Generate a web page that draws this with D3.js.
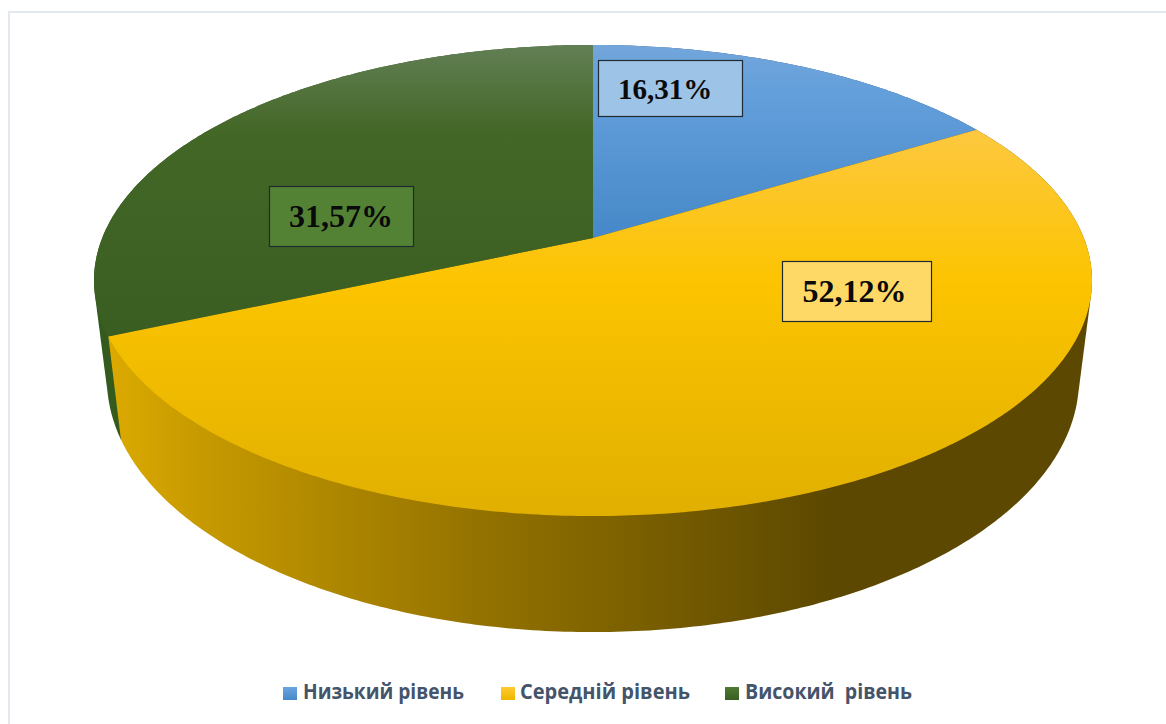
<!DOCTYPE html>
<html><head><meta charset="utf-8">
<script src="https://cdn.jsdelivr.net/npm/d3@7"></script>
<style>html,body{margin:0;padding:0;background:#fff}svg{display:block}</style>
</head><body><svg id="c" width="1166" height="724"></svg>
<script>
const categories = ["Низький рівень", "Середній рівень", "Високий  рівень"];
const values = [16.31, 52.12, 31.57];
const valueLabels = ["16,31%", "52,12%", "31,57%"];

const svg = d3.select("#c");
const defs = svg.append("defs");

// layout / style (kept apart from the data)
const topStops = [
  [["0", "#73a6db"], ["0.25", "#639fdb"], ["1", "#4688c8"]],
  [["0", "#fdc83f"], ["0.4", "#fcc400"], ["1", "#e0af00"]],
  [["0", "#627f55"], ["0.3", "#436726"], ["1", "#3a5e22"]]
];
const sideStops = [
  [["0", "#3a6ea5"], ["1", "#2a5580"]],
  [["0", "#dcaa00"], ["0.12", "#c79a00"], ["0.5", "#927100"], ["0.95", "#5c4800"], ["1", "#5c4800"]],
  [["0", "#345a1e"], ["1", "#2f5019"]]
];
const swatchStops = [
  [["0", "#6aa5e0"], ["1", "#4688c8"]],
  [["0", "#ffcb30"], ["1", "#eeb600"]],
  [["0", "#4f7a32"], ["1", "#3a5e22"]]
];
const boxFill = ["#9dc3e6", "#ffd966", "#548235"];
const boxRect = [[598, 60, 144, 56], [782, 261, 149, 60], [269, 186, 144, 60]];
const boxFont = [29, 32, 32];
const boxTextDx = [-5, -2, 0];

function grad(id, stops, x2, y2) {
  const g = defs.append("linearGradient").attr("id", id)
    .attr("x1", 0).attr("y1", 0).attr("x2", x2).attr("y2", y2);
  stops.forEach(s => g.append("stop").attr("offset", s[0]).attr("stop-color", s[1]));
}
categories.forEach((_, i) => {
  grad("top" + i, topStops[i], 0, 1);
  grad("sw" + i, swatchStops[i], 0, 1);
});
categories.forEach((_, i) => {
  defs.append("linearGradient").attr("id", "side" + i)
    .attr("gradientUnits", "userSpaceOnUse")
    .attr("x1", 107).attr("y1", 0).attr("x2", 870).attr("y2", 0)
    .selectAll("stop").data(sideStops[i]).join("stop")
    .attr("offset", d => d[0]).attr("stop-color", d => d[1]);
});

// perspective projection of the disk
const k = -0.1805;
const CX = 593;
const topDisk = { c: 490.8, a: 238, b: 184.9 };
const botDisk = { c: 478, a: 334, b: 184 };
function project(angle, r, disk) {
  const u = r * Math.sin(angle), v = -r * Math.cos(angle), w = 1 + k * v;
  return [CX + disk.c * u / w, (disk.a + disk.b * v) / w];
}
const arcPts = (a0, a1, disk) => {
  const n = Math.max(2, Math.ceil((a1 - a0) * 90));
  return d3.range(n + 1).map(i => project(a0 + (a1 - a0) * i / n, 1, disk));
};
const line = d3.line();

const slices = d3.pie().sort(null).value(d => d)(values);

// border of the chart area
svg.append("path").attr("d", line([[1166, 12], [9, 12], [9, 724]]))
  .attr("fill", "none").attr("stroke", "#e3e8ee").attr("stroke-width", 2);

// side walls: hull of each slice's top and bottom rims; green, blue, yellow in front
[2, 0, 1].forEach(i => {
  const s = slices[i];
  const pts = arcPts(s.startAngle, s.endAngle, topDisk)
    .concat(arcPts(s.startAngle, s.endAngle, botDisk));
  svg.append("path").attr("d", line(d3.polygonHull(pts)) + "Z").attr("fill", `url(#side${i})`);
});

// top faces
slices.forEach((s, i) => {
  const pts = [project(0, 0, topDisk)].concat(arcPts(s.startAngle, s.endAngle, topDisk));
  svg.append("path").attr("d", line(pts) + "Z").attr("fill", `url(#top${i})`);
});

// value boxes
slices.forEach((s, i) => {
  const [x, y, w, h] = boxRect[i];
  svg.append("rect").attr("x", x + 0.5).attr("y", y + 0.5).attr("width", w).attr("height", h)
    .attr("fill", boxFill[i]).attr("stroke", "#1f2a33").attr("stroke-width", 1.2);
  svg.append("text").attr("x", x + w / 2 + boxTextDx[i]).attr("y", y + h / 2 + 11)
    .attr("text-anchor", "middle")
    .attr("font-family", "'Liberation Serif','Times New Roman',serif")
    .attr("font-weight", "bold").attr("font-size", boxFont[i]).attr("fill", "#0a0a0a")
    .text(valueLabels[i]);
});

// legend
const swatchX = [283, 501, 725];
const legendTextX = [303, 520, 745];
const legendW = [161, 170, 167];
categories.forEach((c, i) => {
  svg.append("rect").attr("x", swatchX[i]).attr("y", 687).attr("width", 14).attr("height", 13)
    .attr("fill", `url(#sw${i})`);
  svg.append("text").attr("x", legendTextX[i]).attr("y", 699)
    .attr("font-family", "'Open Sans','Noto Sans',sans-serif")
    .attr("font-weight", "bold").attr("font-size", 21).attr("fill", "#44546a")
    .attr("xml:space", "preserve").style("white-space", "pre")
    .attr("textLength", legendW[i]).attr("lengthAdjust", "spacingAndGlyphs")
    .text(c);
});
</script></body></html>
